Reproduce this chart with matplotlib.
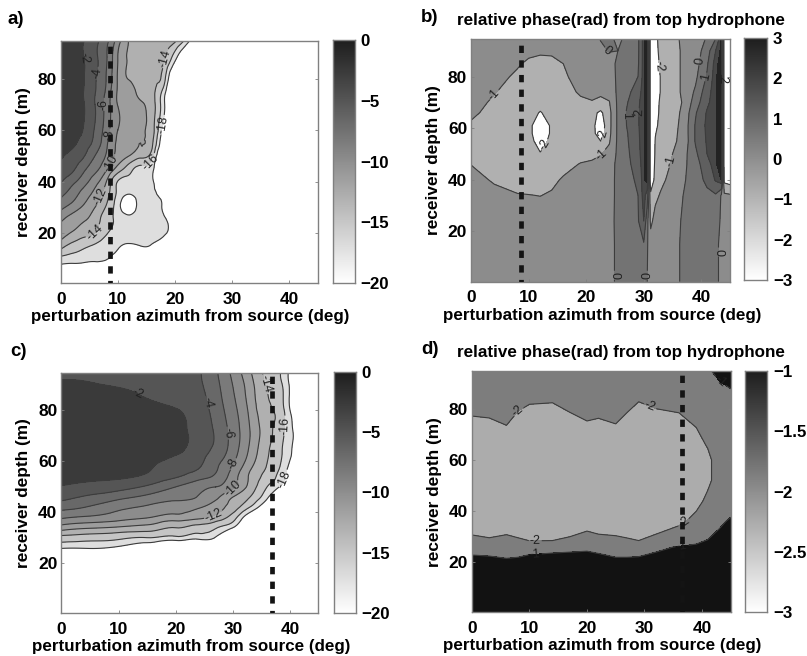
import numpy as np
import matplotlib
matplotlib.use('Agg')
import matplotlib.pyplot as plt
import matplotlib.tri as mtri
from matplotlib.colors import LinearSegmentedColormap

plt.rcParams['font.family'] = ['Liberation Sans', 'DejaVu Sans']
plt.rcParams['font.weight'] = 'bold'
plt.rcParams['contour.negative_linestyle'] = 'solid'

# ---------- panel a: level (dB) ----------
AZ_A = [0, 2, 4, 6, 8, 10, 12, 14, 16, 18, 20, 22, 24, 45]
DEPTH_A = [94.7, 88, 80, 75, 70, 60, 55, 50, 45, 40, 36, 31, 26, 20, 15, 10, 5, 0.5]
LEVEL_A = [
    [-0.5, -1.2, -1.9, -3.4, -5.4, -9.0, -12.1, -12.4, -12.8, -13.2, -13.6, -16.8, -20, -22],
    [-0.5, -1.2, -1.9, -3.6, -5.8, -10, -12.2, -12.6, -13.2, -13.7, -17.3, -21, -22, -22],
    [-0.5, -1.2, -1.9, -3.8, -6.1, -10.2, -12.1, -12.9, -13.7, -15, -22, -22, -22, -22],
    [-0.5, -1.2, -2.0, -3.9, -6.4, -10.2, -11.4, -12.6, -13.6, -16.8, -22, -22, -22, -22],
    [-0.5, -1.2, -1.9, -4.0, -6.8, -10.1, -11, -11.7, -13.2, -17.4, -22, -22, -22, -22],
    [-0.5, -1.2, -2.1, -4.2, -7.0, -10, -10.8, -11.7, -13.2, -19, -22, -22, -22, -22],
    [-0.7, -1.5, -2.8, -4.6, -7.6, -10.3, -11, -12, -13.6, -20, -22, -22, -22, -22],
    [-1.7, -2.6, -3.8, -6.0, -8.2, -10.7, -12, -13.3, -15.3, -22, -22, -22, -22, -22],
    [-2.6, -3.5, -5.5, -7.3, -9.7, -12.8, -15.1, -16.6, -17.4, -22, -22, -22, -22, -22],
    [-3.8, -5.4, -7.1, -9.2, -12, -16.1, -16.6, -17.0, -17.5, -22, -22, -22, -22, -22],
    [-5.3, -6.7, -8.6, -10.4, -13, -16.4, -17.6, -17.2, -17.5, -19.5, -22, -22, -22, -22],
    [-6.9, -8.4, -10, -11.7, -14, -17.2, -19.2, -17.3, -17.4, -18.4, -22, -22, -22, -22],
    [-9.4, -10.6, -11.6, -12.9, -15, -16.6, -17.6, -17, -17.3, -17.8, -20, -22, -22, -22],
    [-11, -12.2, -13.2, -14, -15.8, -16.7, -17, -17, -17.1, -17.6, -19.6, -22, -22, -22],
    [-13.2, -14.7, -15.6, -16.3, -17.2, -17.8, -18.3, -18, -18.2, -20, -22, -22, -22, -22],
    [-16.7, -17, -17.3, -17.6, -17.9, -19, -20, -20, -20, -22, -22, -22, -22, -22],
    [-19.6, -20, -20, -20, -20, -22, -22, -22, -22, -22, -22, -22, -22, -22],
    [-22, -22, -22, -22, -22, -22, -22, -22, -22, -22, -22, -22, -22, -22],
]

# ---------- panel b: relative phase (rad) ----------
AZ_B = [0, 4, 8, 10, 12, 14, 16, 19, 21, 22.5, 24, 25.5, 27, 29, 30, 30.6, 31.2, 32, 33, 35, 37, 39, 41, 42.5, 43.5, 44, 45]
DEPTH_B = [94.7, 90, 85, 80, 74, 70, 66, 61, 58, 55, 50, 46, 40, 34, 24, 15, 0.5]
PHASE_B = [
    [-.4, -.4, -.5, -.5, -.6, -.6, -.6, -.5, -.4, .05, .3, -.3, .3, .8, 2.4, 3, -3, -2.4, -1.4, -1.4, -.7, -.6, .1, 1.0, 2.7, -2.5, -2.8],
    [-.4, -.5, -.7, -.8, -.9, -.9, -.8, -.6, -.5, -.2, .05, 0, .4, .8, 2.4, 3, -3, -2.5, -1.5, -1.5, -.75, -.5, .5, 2.0, 2.8, -2.5, -2.8],
    [-.4, -.6, -.9, -1.15, -1.2, -1.15, -1.0, -.7, -.6, -.5, -.4, .2, .5, .85, 2.4, 3, -3, -2.6, -1.7, -1.5, -.75, -.4, .85, 2.4, 2.9, -2.5, -2.8],
    [-.5, -.7, -1.15, -1.3, -1.35, -1.3, -1.1, -.75, -.65, -.6, -.5, .2, .6, 1.0, 2.4, 3, -3, -2.6, -1.9, -1.5, -.75, -.2, 1.1, 2.5, 3, -2.5, -2.8],
    [-.6, -.95, -1.4, -1.45, -1.5, -1.4, -1.3, -.9, -.8, -.85, -.7, .2, .7, 1.5, 2.5, 3, -3, -2.6, -1.9, -1.6, -.7, .15, 1.6, 2.5, 3, -2.5, -2.8],
    [-.65, -1.15, -1.5, -1.6, -1.7, -1.6, -1.5, -1.15, -1.05, -1.2, -1.05, .2, .9, 1.8, 2.5, 3, -3, -2.4, -1.8, -1.6, -.85, .5, 1.8, 2.5, 3, -2.5, -2.8],
    [-.8, -1.35, -1.6, -1.7, -2.05, -1.7, -1.55, -1.4, -1.7, -2.2, -1.3, .2, 1.05, 1.9, 2.5, 3, -3, -2.3, -1.8, -1.5, -.7, .9, 2.1, 2.5, 3, -2.5, -2.8],
    [-1.15, -1.5, -1.6, -1.75, -2.6, -1.85, -1.6, -1.5, -1.7, -2.6, -1.3, .2, 1.0, 1.9, 2.5, 3, -3, -2.2, -1.7, -1.4, -.6, 1.1, 2.2, 2.5, 3, -2.5, -2.8],
    [-1.35, -1.5, -1.6, -1.75, -2.6, -1.85, -1.6, -1.5, -1.7, -2.5, -1.25, .2, .9, 1.85, 2.5, 3, -3, -2.05, -1.6, -1.3, -.6, 1.1, 2.15, 2.5, 3, -2.5, -2.8],
    [-1.3, -1.45, -1.6, -1.75, -2.3, -1.8, -1.6, -1.5, -1.65, -2, -1.1, .2, .85, 1.8, 2.5, 3, -3, -1.95, -1.55, -1.2, -.65, 1.1, 2.1, 2.5, 3, -2.5, -2.8],
    [-1.15, -1.35, -1.55, -1.7, -1.95, -1.7, -1.55, -1.3, -1.3, -1.05, -.7, .2, .75, 1.7, 2.5, 3, -3, -1.9, -1.5, -1, -.3, .8, 2, 2.5, 3, -2.5, -2.8],
    [-1.02, -1.3, -1.5, -1.55, -1.6, -1.45, -1.3, -.95, -.8, -.7, -.35, .2, .7, 1.5, 2.5, 3, -3, -1.8, -1.4, -.9, -.2, .6, 1.6, 2.5, 3, -2.5, -2.8],
    [-.7, -1.1, -1.35, -1.4, -1.4, -1.2, -.9, -.75, -.65, -.6, -.3, .2, .6, 1.2, 2.5, 2.9, -3, -1.6, -1.2, -.7, -.1, .6, 1.2, 2.1, 2.65, -2.3, -2.5],
    [-.6, -.75, -.95, -.98, -1.02, -.9, -.8, -.7, -.6, -.5, -.3, .2, .5, 1.0, 2.4, 1.5, -1.7, -1.2, -.9, -.6, .05, .6, .8, .9, -.1, -.8, -.9],
    [-.5, -.5, -.5, -.5, -.5, -.5, -.5, -.5, -.5, -.5, -.25, .2, .4, .9, 2, .3, -1.2, -.7, -.6, -.5, .2, .5, .6, .6, -.2, -.5, -.6],
    [-.5, -.5, -.5, -.5, -.5, -.5, -.5, -.5, -.5, -.5, -.3, .2, .4, .8, .9, .1, -.6, -.5, -.5, -.5, .3, .5, .5, .3, -.3, -.5, -.6],
    [-.5, -.5, -.5, -.5, -.5, -.5, -.5, -.5, -.5, -.5, -.3, .2, .4, .5, .5, 0, -.6, -.5, -.5, -.5, .3, .5, .5, .3, -.3, -.5, -.6],
]

# ---------- panel c: level (dB) ----------
AZ_C = [0, 5, 10, 15, 20, 24, 27, 30, 33, 36, 39, 42, 45]
DEPTH_C = [94.7, 88, 80, 72, 64, 58, 54, 50, 46, 42, 38, 34, 30, 26, 22, 0.5]
LEVEL_C = [
    [-2.3, -2.3, -2.6, -2.9, -3.2, -3.8, -5.7, -8.5, -11.7, -14.5, -16.8, -22, -22],
    [-1.6, -1.7, -1.9, -2.4, -3.0, -3.6, -5.3, -7.9, -11, -14, -16.3, -22, -22],
    [-1, -1, -1.2, -1.5, -1.9, -3.0, -4.8, -7.3, -10.5, -13.5, -16, -22, -22],
    [-.8, -.8, -.9, -1.1, -1.5, -2.7, -4.3, -6.8, -10, -13.2, -16, -20, -22],
    [-.9, -.9, -1, -1.3, -1.7, -3, -4.6, -7, -10.4, -13.7, -16.4, -20, -22],
    [-1.2, -1.3, -1.5, -1.8, -2.8, -3.8, -5.7, -8.1, -11.5, -14.1, -17, -21, -22],
    [-1.6, -1.7, -1.8, -2.4, -3.8, -5.2, -6.3, -9, -12.3, -14.8, -17.8, -22, -22],
    [-2.1, -2.6, -3.2, -4.3, -6, -7.3, -8, -9.6, -12.7, -16, -19, -22, -22],
    [-3.3, -4.4, -5.4, -6.5, -7.4, -8.1, -9.5, -12, -14, -17.6, -22, -22, -22],
    [-5.4, -6.2, -7.5, -8.3, -9, -9.8, -11, -13, -16.1, -20, -22, -22, -22],
    [-7.7, -8.4, -9.2, -9.9, -10.9, -11.6, -12.7, -15, -20, -22, -22, -22, -22],
    [-11, -11.8, -12.3, -12.9, -14, -14.9, -15.8, -18, -22, -22, -22, -22, -22],
    [-14.8, -15.2, -15.6, -16.1, -16.7, -17.4, -18.3, -22, -22, -22, -22, -22, -22],
    [-17.9, -17.9, -18.6, -20, -22, -22, -22, -22, -22, -22, -22, -22, -22],
    [-22, -22, -22, -22, -22, -22, -22, -22, -22, -22, -22, -22, -22],
    [-22, -22, -22, -22, -22, -22, -22, -22, -22, -22, -22, -22, -22],
]

# ---------- panel d: relative phase (rad) ----------
AZ_D = [0, 3, 6, 8, 10, 14, 17, 20, 22, 25, 27, 29, 32, 36, 39, 41, 43, 45]
DEPTH_D = [94.7, 86, 66, 60, 52, 44, 36, 26, 15, 0.5]
PHASE_D = [
    [-1.3, -1.3, -1.3, -1.3, -1.3, -1.3, -1.3, -1.3, -1.3, -1.3, -1.3, -1.3, -1.3, -1.3, -1.3, -1.1, -.8, -.8],
    [-1.6, -1.6, -1.6, -1.6, -1.6, -1.6, -1.6, -1.6, -1.6, -1.6, -1.6, -1.6, -1.6, -1.6, -1.6, -1.5, -1.25, -1.05],
    [-2.5, -2.43, -2.24, -2.74, -3.46, -3.76, -2.68, -2.34, -2.42, -2.27, -2.67, -4.02, -2.93, -2.65, -2.2, -1.95, -1.65, -1.55],
    [-2.4, -2.4, -2.4, -2.4, -2.4, -2.4, -2.4, -2.4, -2.4, -2.4, -2.4, -2.4, -2.4, -2.4, -2.4, -2.15, -1.7, -1.6],
    [-2.4, -2.4, -2.4, -2.4, -2.4, -2.4, -2.4, -2.4, -2.4, -2.4, -2.4, -2.4, -2.4, -2.4, -2.4, -2.2, -1.6, -1.5],
    [-2.4, -2.4, -2.4, -2.4, -2.4, -2.4, -2.4, -2.4, -2.4, -2.4, -2.4, -2.4, -2.4, -2.4, -2.3, -1.79, -1.3, -1.2],
    [-2.95, -3.44, -2.79, -3.37, -4.69, -4.67, -3.37, -2.57, -2.88, -2.98, -3.43, -4.37, -2.91, -2.21, -1.71, -1.3, -1.07, -.95],
    [-1.16, -1.19, -1.27, -1.23, -1.15, -1.11, -1.09, -1.07, -1.12, -1.23, -1.23, -1.21, -1.09, -.97, -.91, -.88, -.83, -.8],
    [-.6, -.6, -.6, -.6, -.6, -.6, -.6, -.6, -.6, -.6, -.6, -.6, -.6, -.6, -.6, -.6, -.6, -.6],
    [-.6, -.6, -.6, -.6, -.6, -.6, -.6, -.6, -.6, -.6, -.6, -.6, -.6, -.6, -.6, -.6, -.6, -.6],
]

# ---------- contour levels and marked azimuths ----------
LEVELS_DB = [-18, -16, -14, -12, -10, -8, -6, -4, -2, 0.0]
LEVELS_B = [-10, -2, -1, 0, 1, 2, 2.6, 10]
LEVELS_D = [-10, -2, -1, 10]
SOURCE_AZ = {'a': 8.7, 'b': 8.6, 'c': 36.9, 'd': 36.6}
CBAR_TICKS_DB = [0, -5, -10, -15, -20]
CBAR_TICKS_B = [3, 2, 1, 0, -1, -2, -3]
CBAR_TICKS_D = [-1, -1.5, -2, -2.5, -3]

LABELS_A = {-2: [(4.2, 88)], -4: [(6.3, 82)], -6: [(7.5, 70)], -8: [(8.8, 58)], -10: [(8, 48)],
            -12: [(7.3, 34)], -14: [(6.8, 18), (18, 88)], -16: [(16, 47)], -18: [(18, 62)]}
LABELS_B = {-1: [(4, 73), (23, 49), (35, 47)], -2: [(13.2, 53), (23.5, 57), (33, 84)],
            0: [(23.3, 89), (25, 3), (30.5, 3), (43, 12), (39.8, 86)], 1: [(27.5, 65), (40.5, 80)],
            2: [(29.5, 66), (42.8, 79)]}
LABELS_C = {-2: [(13.5, 87)], -4: [(25.5, 83)], -6: [(29, 71)], -8: [(31, 58)], -10: [(30.5, 48)],
            -12: [(27, 37)], -14: [(35.5, 90)], -16: [(39, 74)], -18: [(39, 53)]}
LABELS_D = {-2: [(8, 79), (31, 81), (11, 28.4), (37, 35)], -1: [(11, 23), (36.5, 27), (43, 90)]}

W, H = 807, 656
fig = plt.figure(figsize=(W / 100, H / 100), dpi=100)


def box(l, t, r, b):
    return [l / W, 1 - b / H, (r - l) / W, (b - t) / H]


GRAY = LinearSegmentedColormap.from_list('g', [(0.12, 0.12, 0.12), (1, 1, 1)])
EDGE = '#808080'
LINE = '#3c3c3c'


def gray(v):
    return (v / 255, v / 255, v / 255)


def panel(pos, cpos, az, depth, z, levels, colors, lines, labels, src, vmin, vmax, cticks, cfmt, smooth):
    ax = fig.add_axes(box(*pos))
    x = np.array(az, float)
    y = np.array(depth, float)[::-1]
    Z = np.array(z, float)[::-1]
    if smooth:
        X, Y = np.meshgrid(x, y)
        tri, zf = mtri.UniformTriRefiner(mtri.Triangulation(X.ravel(), Y.ravel())).refine_field(Z.ravel(), subdiv=3)
        ax.tricontourf(tri, zf, levels=levels, colors=colors)
        draw = lambda lev: ax.tricontour(tri, zf, levels=[lev], colors=LINE, linewidths=0.8)
    else:
        ax.contourf(x, y, Z, levels=levels, colors=colors)
        draw = lambda lev: ax.contour(x, y, Z, levels=[lev], colors=LINE, linewidths=0.8)
    for lev in lines:
        cs = draw(lev)
        if lev in labels:
            texts = ax.clabel(cs, manual=labels[lev], fontsize=9, fmt='%d', inline=True, inline_spacing=1,
                              colors='#202020')
            for t in texts:
                t.set_fontweight('normal')
    ax.plot([src, src], [0.5, 94.7], color='#141414', lw=3.4, linestyle=(1.0, (1.55, 1.55)),
            dash_capstyle='butt', zorder=5)
    ax.set_xlim(0, 45)
    ax.set_ylim(0.5, 94.7)
    ax.set_xticks([0, 10, 20, 30, 40])
    ax.set_yticks([20, 40, 60, 80])
    ax.tick_params(direction='in', length=2, width=0.6, color=EDGE, right=True, top=False, labelsize=12.5, pad=3)
    ax.tick_params(axis='x', pad=6)
    for s in ax.spines.values():
        s.set_color(EDGE)
        s.set_linewidth(1.0)
    ax.set_xlabel('perturbation azimuth from source (deg)', fontsize=12.25, fontweight='bold')
    ax.set_ylabel('receiver depth (m)', fontsize=12.4, fontweight='bold')
    ax.xaxis.set_label_coords(0.505, -0.107)
    ax.yaxis.set_label_coords(-0.117, 0.5)

    cax = fig.add_axes(box(*cpos))
    grad = np.linspace(vmin, vmax, 128)[:, None]
    cax.imshow(grad, origin='lower', aspect='auto', cmap=GRAY.reversed(), extent=[0, 1, vmin, vmax], vmin=vmin, vmax=vmax)
    cax.set_xticks([])
    cax.yaxis.tick_right()
    cax.set_yticks(cticks)
    cax.set_yticklabels([cfmt(t) for t in cticks])
    cax.tick_params(length=0, labelsize=12.2, pad=4)
    for s in cax.spines.values():
        s.set_color(EDGE)
        s.set_linewidth(1.0)
    return ax


def lab(t):
    return ('%g' % t).replace('-', '\u2212')


DB_COLORS = [gray(v) for v in (222, 197, 176, 157, 140, 122, 104, 85, 58)]
panel((60.7, 40.7, 317.7, 283.3), (332.5, 40, 355, 283), AZ_A, DEPTH_A, LEVEL_A, LEVELS_DB, DB_COLORS,
      LEVELS_DB[:-1], LABELS_A, SOURCE_AZ['a'], -20, 0, CBAR_TICKS_DB, lab, True)
panel((471.3, 38.7, 730, 281.7), (744.3, 38, 767.3, 280), AZ_B, DEPTH_B, PHASE_B, LEVELS_B,
      [gray(v) for v in (255, 176, 140, 115, 95, 72, 35)], [-2, -1, 0, 1, 2], LABELS_B, SOURCE_AZ['b'], -3, 3,
      CBAR_TICKS_B, lab, False)
panel((61.5, 372.7, 318.5, 613.3), (333.5, 372, 356, 613), AZ_C, DEPTH_C, LEVEL_C, LEVELS_DB, DB_COLORS,
      LEVELS_DB[:-1], LABELS_C, SOURCE_AZ['c'], -20, 0, CBAR_TICKS_DB, lab, True)
panel((472, 371, 730.7, 612.3), (745.3, 371, 767.3, 612), AZ_D, DEPTH_D, PHASE_D, LEVELS_D,
      [gray(v) for v in (172, 125, 18)], [-2, -1], LABELS_D, SOURCE_AZ['d'], -3, -1, CBAR_TICKS_D, lab, False)

for txt, x, y in [('a)', 8, 19), ('b)', 421, 17), ('c)', 10, 351), ('d)', 421, 350)]:
    fig.text(x / W, 1 - y / H, txt, fontsize=13.5, fontweight='bold', va='center', ha='left')
for y in (20, 352):
    fig.text(620.5 / W, 1 - y / H, 'relative phase(rad) from top hydrophone', fontsize=12.25,
             fontweight='bold', va='center', ha='center')

fig.savefig('out.png', dpi=100)
